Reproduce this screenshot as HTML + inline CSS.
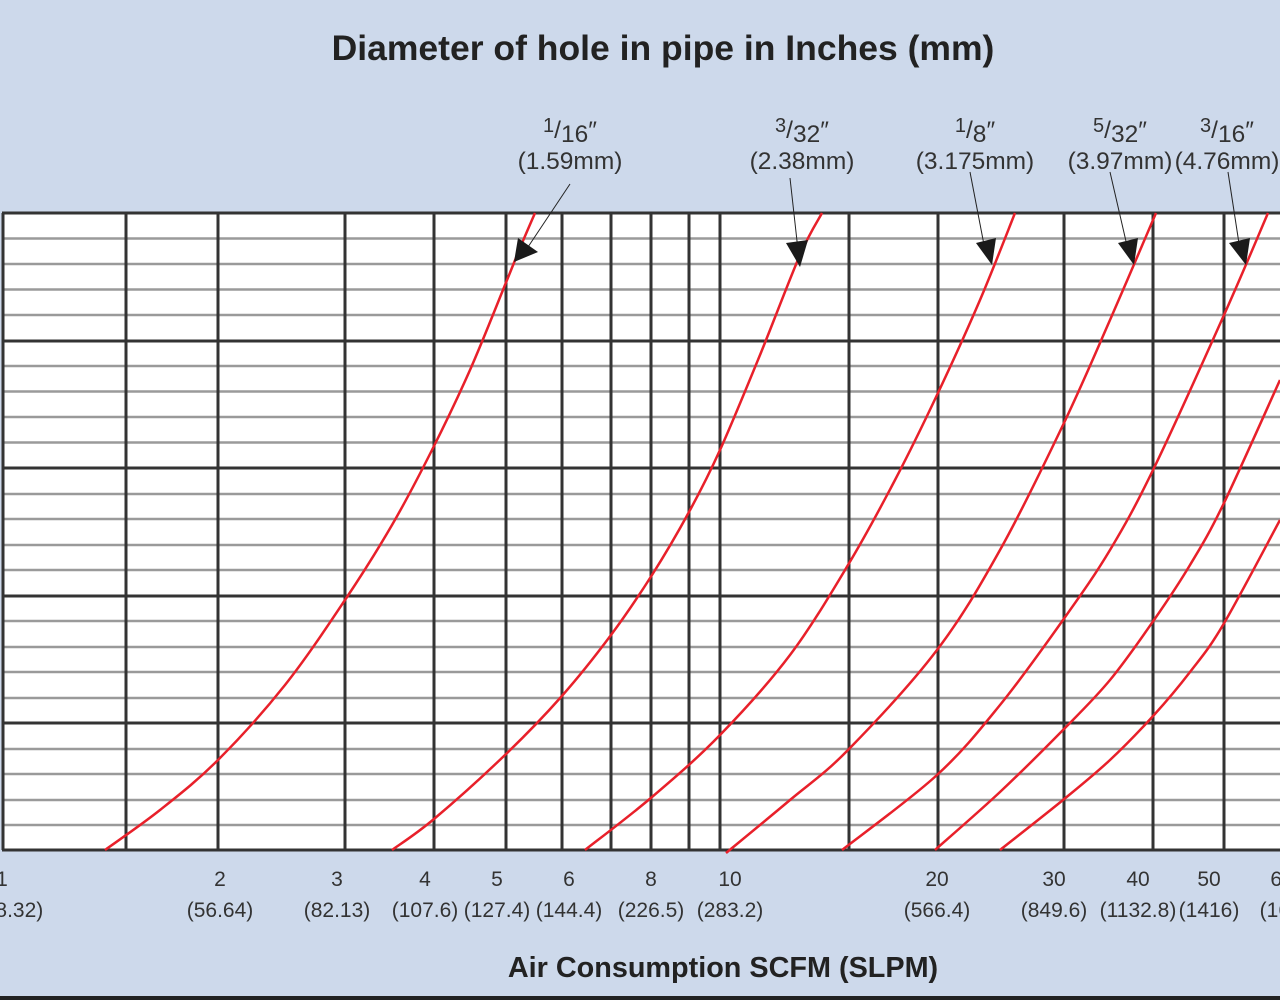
<!DOCTYPE html>
<html><head><meta charset="utf-8"><style>
html,body{margin:0;padding:0;background:#cdd9eb;}
svg{display:block;}
text{font-family:"Liberation Sans",sans-serif;}
</style></head><body>
<svg width="1280" height="1000" viewBox="0 0 1280 1000" xmlns="http://www.w3.org/2000/svg">
<rect x="0" y="0" width="1280" height="1000" fill="#cdd9eb"/>
<rect x="0" y="996" width="1280" height="4" fill="#222"/>
<rect x="2" y="213" width="1278" height="637" fill="#fff"/>
<g stroke="#9a9a9a" stroke-width="2.5">
<line x1="2" x2="1280" y1="238.5" y2="238.5"/><line x1="2" x2="1280" y1="264" y2="264"/><line x1="2" x2="1280" y1="289.5" y2="289.5"/><line x1="2" x2="1280" y1="315" y2="315"/>
<line x1="2" x2="1280" y1="366" y2="366"/><line x1="2" x2="1280" y1="391.5" y2="391.5"/><line x1="2" x2="1280" y1="417" y2="417"/><line x1="2" x2="1280" y1="442.5" y2="442.5"/>
<line x1="2" x2="1280" y1="494" y2="494"/><line x1="2" x2="1280" y1="519" y2="519"/><line x1="2" x2="1280" y1="545" y2="545"/><line x1="2" x2="1280" y1="570" y2="570"/>
<line x1="2" x2="1280" y1="621" y2="621"/><line x1="2" x2="1280" y1="647" y2="647"/><line x1="2" x2="1280" y1="672" y2="672"/><line x1="2" x2="1280" y1="698" y2="698"/>
<line x1="2" x2="1280" y1="749" y2="749"/><line x1="2" x2="1280" y1="774" y2="774"/><line x1="2" x2="1280" y1="800" y2="800"/><line x1="2" x2="1280" y1="825" y2="825"/>
</g>
<g stroke="#333" stroke-width="3">
<line x1="2" x2="1280" y1="341" y2="341"/><line x1="2" x2="1280" y1="468" y2="468"/><line x1="2" x2="1280" y1="596" y2="596"/><line x1="2" x2="1280" y1="723" y2="723"/>
<line x1="2" x2="1280" y1="213" y2="213"/><line x1="2" x2="1280" y1="850" y2="850"/>
<line y1="213" y2="850" x1="3" x2="3"/><line y1="213" y2="850" x1="126" x2="126"/><line y1="213" y2="850" x1="218" x2="218"/><line y1="213" y2="850" x1="345" x2="345"/><line y1="213" y2="850" x1="434" x2="434"/><line y1="213" y2="850" x1="506" x2="506"/><line y1="213" y2="850" x1="562" x2="562"/><line y1="213" y2="850" x1="611" x2="611"/><line y1="213" y2="850" x1="651" x2="651"/><line y1="213" y2="850" x1="689" x2="689"/><line y1="213" y2="850" x1="720" x2="720"/><line y1="213" y2="850" x1="849" x2="849"/><line y1="213" y2="850" x1="938" x2="938"/><line y1="213" y2="850" x1="1064" x2="1064"/><line y1="213" y2="850" x1="1153" x2="1153"/><line y1="213" y2="850" x1="1224" x2="1224"/>
</g>
<g id="curves" fill="none" stroke="#e8202a" stroke-width="2.5" stroke-linejoin="round">
<polyline points="105,850 160,810 218,760 285,685 345,600 392,525 432,450 470,370 505,285 520,248 535,213"/>
<polyline points="392,850 434,819 505,755 561,697 611,635 652,575 689,512 720,450 760,355 800,255 822,213"/>
<polyline points="585,850 652,797 720,735 790,655 848,565 895,480 937,395 980,300 1015,213"/>
<polyline points="726,853 790,800 848,750 937,650 1000,550 1063,425 1110,320 1156,213"/>
<polyline points="842,850 937,775 1000,705 1063,620 1110,550 1154,468 1224,315 1268,213"/>
<polyline points="935,850 1000,792 1063,730 1110,680 1154,620 1190,565 1223,505 1280,380"/>
<polyline points="1000,850 1063,800 1110,760 1154,715 1190,672 1223,625 1280,520"/>
</g>
<g stroke="#222" stroke-width="1">
<line x1="570" y1="184" x2="526" y2="250"/>
<line x1="790" y1="178" x2="798" y2="250"/>
<line x1="970" y1="172" x2="985" y2="250"/>
<line x1="1110" y1="172" x2="1128" y2="250"/>
<line x1="1228" y1="172" x2="1240" y2="250"/>
</g>
<g fill="#1a1a1a">
<polygon points="514,262 518,238 538,252"/>
<polygon points="800,267 786,243 808,240"/>
<polygon points="992,265 976,243 996,238"/>
<polygon points="1134,265 1118,243 1138,238"/>
<polygon points="1246,265 1229,243 1250,238"/>
</g>
<text x="663" y="60" font-size="35.5" font-weight="bold" text-anchor="middle" fill="#222">Diameter of hole in pipe in Inches (mm)</text>
<g font-size="24.5" fill="#333" text-anchor="middle">
<text x="570" y="138"><tspan font-size="20" dy="-6">1</tspan><tspan dy="6">/</tspan><tspan dy="4">16</tspan><tspan dy="-4">″</tspan></text>
<text x="570" y="169">(1.59mm)</text>
<text x="802" y="138"><tspan font-size="20" dy="-6">3</tspan><tspan dy="6">/</tspan><tspan dy="4">32</tspan><tspan dy="-4">″</tspan></text>
<text x="802" y="169">(2.38mm)</text>
<text x="975" y="138"><tspan font-size="20" dy="-6">1</tspan><tspan dy="6">/</tspan><tspan dy="4">8</tspan><tspan dy="-4">″</tspan></text>
<text x="975" y="169">(3.175mm)</text>
<text x="1120" y="138"><tspan font-size="20" dy="-6">5</tspan><tspan dy="6">/</tspan><tspan dy="4">32</tspan><tspan dy="-4">″</tspan></text>
<text x="1120" y="169">(3.97mm)</text>
<text x="1227" y="138"><tspan font-size="20" dy="-6">3</tspan><tspan dy="6">/</tspan><tspan dy="4">16</tspan><tspan dy="-4">″</tspan></text>
<text x="1227" y="169">(4.76mm)</text>
</g>
<g font-size="21" fill="#333" text-anchor="middle">
<text x="2" y="886">1</text><text x="10" y="917">(28.32)</text>
<text x="220" y="886">2</text><text x="220" y="917">(56.64)</text>
<text x="337" y="886">3</text><text x="337" y="917">(82.13)</text>
<text x="425" y="886">4</text><text x="425" y="917">(107.6)</text>
<text x="497" y="886">5</text><text x="497" y="917">(127.4)</text>
<text x="569" y="886">6</text><text x="569" y="917">(144.4)</text>
<text x="651" y="886">8</text><text x="651" y="917">(226.5)</text>
<text x="730" y="886">10</text><text x="730" y="917">(283.2)</text>
<text x="937" y="886">20</text><text x="937" y="917">(566.4)</text>
<text x="1054" y="886">30</text><text x="1054" y="917">(849.6)</text>
<text x="1138" y="886">40</text><text x="1138" y="917">(1132.8)</text>
<text x="1209" y="886">50</text><text x="1209" y="917">(1416)</text>
<text x="1282" y="886">60</text><text x="1290" y="917">(1699)</text>
</g>
<text x="723" y="977" font-size="28.8" font-weight="bold" text-anchor="middle" fill="#222">Air Consumption SCFM (SLPM)</text>
</svg>
<script>
(function(){
  var ns="http://www.w3.org/2000/svg";
  var pls=document.querySelectorAll("#curves polyline");
  for(var i=0;i<pls.length;i++){
    var pl=pls[i];
    var pts=pl.getAttribute("points").trim().split(/\s+/).map(function(s){return s.split(",").map(Number);});
    var d="M"+pts[0][0]+","+pts[0][1];
    for(var j=0;j<pts.length-1;j++){
      var p0=pts[j-1]||pts[j],p1=pts[j],p2=pts[j+1],p3=pts[j+2]||pts[j+1];
      var c1x=p1[0]+(p2[0]-p0[0])/6,c1y=p1[1]+(p2[1]-p0[1])/6;
      var c2x=p2[0]-(p3[0]-p1[0])/6,c2y=p2[1]-(p3[1]-p1[1])/6;
      d+=" C"+c1x+","+c1y+" "+c2x+","+c2y+" "+p2[0]+","+p2[1];
    }
    var p=document.createElementNS(ns,"path");
    p.setAttribute("d",d);
    pl.parentNode.replaceChild(p,pl);
  }
})();
</script>
</body></html>
